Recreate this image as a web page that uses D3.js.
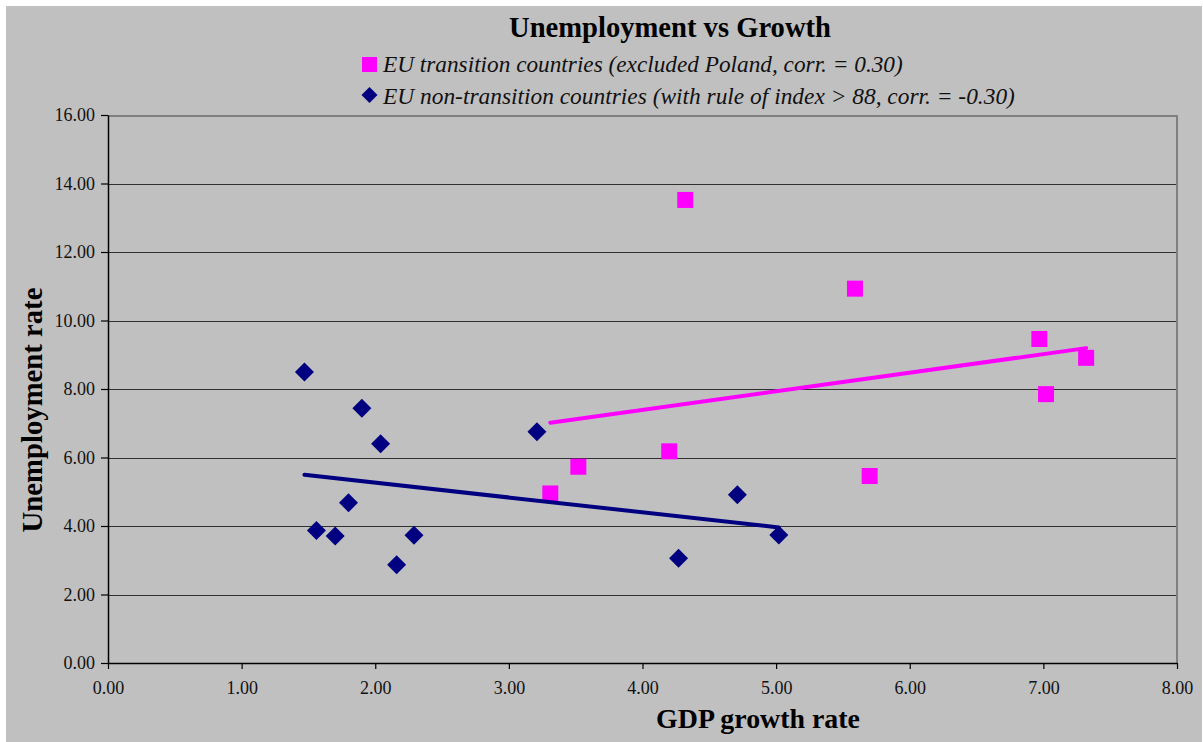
<!DOCTYPE html>
<html>
<head>
<meta charset="utf-8">
<script src="https://cdn.jsdelivr.net/npm/d3@7/dist/d3.min.js"></script>
<style>
  html, body { margin: 0; padding: 0; background: #ffffff; }
  svg { display: block; }
</style>
</head>
<body>
<svg id="chart" width="1203" height="742"></svg>
<script>
// ---------------- DATA ----------------
const chartTitle = "Unemployment vs Growth";
const seriesNames = [
  "EU transition countries (excluded Poland, corr. = 0.30)",
  "EU non-transition countries (with rule of index > 88, corr. = -0.30)"
];
const xAxisTitle = "GDP growth rate";
const yAxisTitle = "Unemployment rate";

// EU transition countries (magenta squares)
const transitionGDP   = [4.32, 5.59, 6.97, 7.32, 7.02, 4.20, 3.52, 3.31, 5.70];
const transitionUnemp = [13.52, 10.93, 9.46, 8.91, 7.85, 6.18, 5.73, 4.95, 5.46];

// EU non-transition countries (navy diamonds)
const nonTransitionGDP   = [1.47, 1.90, 2.04, 3.21, 1.80, 1.56, 1.70, 2.29, 2.16, 4.71, 4.27, 5.02];
const nonTransitionUnemp = [8.50, 7.44, 6.40, 6.75, 4.68, 3.87, 3.71, 3.73, 2.87, 4.91, 3.06, 3.74];

const xTicks = [0, 1, 2, 3, 4, 5, 6, 7, 8];
const yTicks = [0, 2, 4, 6, 8, 10, 12, 14, 16];

// ---------------- LAYOUT ----------------
const W = 1203, H = 742;
const plot = { left: 108, right: 1177, top: 115, bottom: 663 };
const colMagenta = "#ff00ff", colNavy = "#000080", bg = "#c0c0c0";
const serif = "'Liberation Serif', 'Times New Roman', serif";

const svg = d3.select("#chart");

svg.append("rect").attr("x", 6).attr("y", 6).attr("width", W - 7).attr("height", H - 6)
  .attr("fill", bg);

const x = d3.scaleLinear().domain([xTicks[0], xTicks[xTicks.length - 1]]).range([plot.left, plot.right]);
const y = d3.scaleLinear().domain([yTicks[0], yTicks[yTicks.length - 1]]).range([plot.bottom, plot.top]);
const fmt = d3.format(".2f");

// gridlines
svg.append("g").selectAll("line").data(yTicks.slice(1, -1)).join("line")
  .attr("x1", plot.left).attr("x2", plot.right)
  .attr("y1", d => Math.round(y(d)) + 0.5).attr("y2", d => Math.round(y(d)) + 0.5)
  .attr("stroke", "#303030").attr("stroke-width", 1.2);

// plot border top/right (grey)
svg.append("path")
  .attr("d", `M${plot.left},${plot.top + 1}H${plot.right}V${plot.bottom}`)
  .attr("fill", "none").attr("stroke", "#808080").attr("stroke-width", 2);

// axes
const yAxis = d3.axisLeft(y).tickValues(yTicks).tickFormat(fmt).tickSizeInner(7).tickSizeOuter(0).tickPadding(6);
const xAxis = d3.axisBottom(x).tickValues(xTicks).tickFormat(fmt).tickSizeInner(6).tickSizeOuter(0).tickPadding(12);

const gy = svg.append("g").attr("transform", `translate(${plot.left},0)`).call(yAxis);
const gx = svg.append("g").attr("transform", `translate(0,${plot.bottom})`).call(xAxis);
[gx, gy].forEach(g => {
  g.attr("font-family", serif).attr("font-size", 18);
  g.select(".domain").attr("stroke", "#000").attr("stroke-width", 1.5);
  g.selectAll(".tick line").attr("stroke", "#000").attr("stroke-width", 1.2);
  g.selectAll(".tick text")
    .style("font-family", serif).style("font-size", "18px").attr("fill", "#111");
});

// ---------------- MARKERS ----------------
const transition = transitionGDP.map((v, i) => ({ x: v, y: transitionUnemp[i] }));
const nonTransition = nonTransitionGDP.map((v, i) => ({ x: v, y: nonTransitionUnemp[i] }));

const sq = 16;
svg.append("g").selectAll("rect").data(transition).join("rect")
  .attr("x", d => x(d.x) - sq / 2).attr("y", d => y(d.y) - sq / 2)
  .attr("width", sq).attr("height", sq).attr("fill", colMagenta);

const dm = 9.5;
const diamond = `M0,${-dm}L${dm},0L0,${dm}L${-dm},0Z`;
svg.append("g").selectAll("path").data(nonTransition).join("path")
  .attr("transform", d => `translate(${x(d.x)},${y(d.y)})`)
  .attr("d", diamond).attr("fill", colNavy);

// ---------------- TRENDLINES (least squares) ----------------
function trend(pts) {
  const mx = d3.mean(pts, p => p.x), my = d3.mean(pts, p => p.y);
  const sxy = d3.sum(pts, p => (p.x - mx) * (p.y - my));
  const sxx = d3.sum(pts, p => (p.x - mx) * (p.x - mx));
  const b = sxy / sxx, a = my - b * mx;
  const [x0, x1] = d3.extent(pts, p => p.x);
  return [{ x: x0, y: a + b * x0 }, { x: x1, y: a + b * x1 }];
}
const line = d3.line().x(d => x(d.x)).y(d => y(d.y));
svg.append("path").attr("d", line(trend(transition)))
  .attr("fill", "none").attr("stroke", colMagenta).attr("stroke-width", 4).attr("stroke-linecap", "round");
svg.append("path").attr("d", line(trend(nonTransition)))
  .attr("fill", "none").attr("stroke", colNavy).attr("stroke-width", 4).attr("stroke-linecap", "round");

// ---------------- TEXTS ----------------
function fit(sel, target) {
  const w = sel.node().getComputedTextLength();
  const fs = parseFloat(sel.attr("font-size"));
  sel.attr("font-size", (fs * target / w).toFixed(2));
  return sel;
}

fit(svg.append("text").attr("x", 670).attr("y", 37).attr("text-anchor", "middle")
  .attr("font-family", serif).attr("font-weight", "bold").attr("font-size", 24)
  .attr("fill", "#000").text(chartTitle), 322);

// legend
svg.append("rect").attr("x", 362).attr("y", 57).attr("width", 15).attr("height", 15).attr("fill", colMagenta);
svg.append("path").attr("transform", "translate(369.5,95)")
  .attr("d", "M0,-8L8,0L0,8L-8,0Z").attr("fill", colNavy);

fit(svg.append("text").attr("x", 383).attr("y", 72)
  .attr("font-family", serif).attr("font-style", "italic").attr("font-size", 22)
  .attr("fill", "#111").text(seriesNames[0]), 520);
fit(svg.append("text").attr("x", 383).attr("y", 104)
  .attr("font-family", serif).attr("font-style", "italic").attr("font-size", 22)
  .attr("fill", "#111").text(seriesNames[1]), 632);

// axis titles
fit(svg.append("text").attr("x", 758).attr("y", 728).attr("text-anchor", "middle")
  .attr("font-family", serif).attr("font-weight", "bold").attr("font-size", 26)
  .attr("fill", "#000").text(xAxisTitle), 204);

fit(svg.append("text").attr("transform", "translate(42,410) rotate(-90)").attr("text-anchor", "middle")
  .attr("font-family", serif).attr("font-weight", "bold").attr("font-size", 26)
  .attr("fill", "#000").text(yAxisTitle), 245);
</script>
</body>
</html>
